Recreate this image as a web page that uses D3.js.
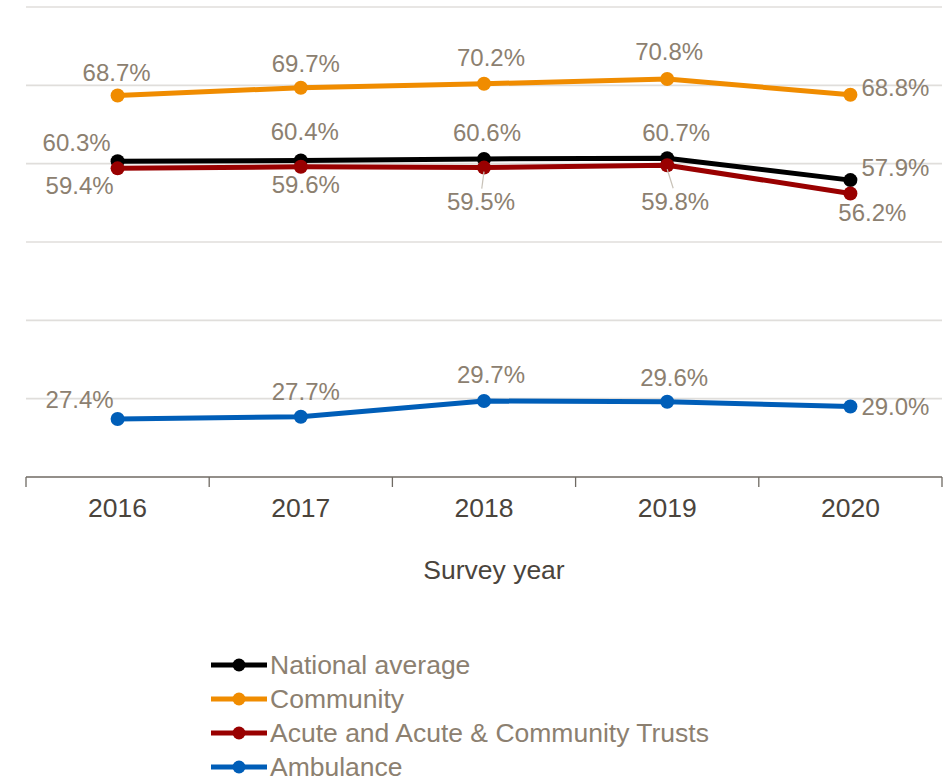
<!DOCTYPE html>
<html>
<head>
<meta charset="utf-8">
<script src="https://cdn.jsdelivr.net/npm/d3@7"></script>
<style>
  html, body { margin: 0; padding: 0; background: #fff; }
  svg { display: block; font-family: "Liberation Sans", Arial, sans-serif; }
</style>
</head>
<body>
<svg id="chart" width="951" height="777"></svg>
<script>
// Survey years and series values (percent)
const years = ["2016", "2017", "2018", "2019", "2020"];
const nationalAverage = [60.3, 60.4, 60.6, 60.7, 57.9];
const community = [68.7, 69.7, 70.2, 70.8, 68.8];
const acuteTrusts = [59.4, 59.6, 59.5, 59.8, 56.2];
const ambulance = [27.4, 27.7, 29.7, 29.6, 29.0];
const seriesNames = ["National average", "Community", "Acute and Acute & Community Trusts", "Ambulance"];
const yTicks = [30, 40, 50, 60, 70, 80];

// Label placement (offset of label centre from its point; "start" labels sit to the right)
const labelLayout = [
  [[-41, -19], [4, -29], [3, -26], [9, -26], [11, -13, "start"]],
  [[-1, -23], [5, -24], [7, -26], [2, -27], [11, -7, "start"]],
  [[-38, 17], [5, 18], [-3, 34, "leader"], [8, 36, "leader"], [22, 19]],
  [[-38, -19], [5, -25], [7, -26], [7, -24], [11, 0, "start"]]
];
const colors = ["#000000", "#f08c00", "#990000", "#005eb8"];

const series = [nationalAverage, community, acuteTrusts, ambulance].map((vals, i) => ({
  name: seriesNames[i],
  color: colors[i],
  values: vals.map((v, j) => ({ year: years[j], value: v, layout: labelLayout[i][j] }))
}));

const svg = d3.select("#chart");
const x = d3.scaleBand().domain(years).range([26, 942]).padding(0);
const y = d3.scaleLinear().domain([20, 80]).range([477, 7]);
const cx = d => x(d.year) + x.bandwidth() / 2;

// Horizontal gridlines
svg.append("g").selectAll("line").data(yTicks).join("line")
  .attr("x1", 26).attr("x2", 942)
  .attr("y1", d => y(d)).attr("y2", d => y(d))
  .attr("stroke", "#e0dedb").attr("stroke-width", 1.6);

// Category axis with ticks on band boundaries
const axisG = svg.append("g").attr("transform", `translate(0,${y(20)})`);
axisG.append("line").attr("x1", 26).attr("x2", 942).attr("stroke", "#6f6a63").attr("stroke-width", 1.3);
const bounds = years.map(d => x(d)).concat([x.range()[1]]);
axisG.selectAll("line.tick").data(bounds).join("line").attr("class", "tick")
  .attr("x1", d => d).attr("x2", d => d).attr("y1", 0).attr("y2", 10)
  .attr("stroke", "#6f6a63").attr("stroke-width", 1.3);
axisG.selectAll("text").data(years).join("text")
  .attr("x", d => x(d) + x.bandwidth() / 2).attr("y", 40)
  .attr("text-anchor", "middle")
  .attr("font-size", 26.5).attr("fill", "#4a443c")
  .text(d => d);

svg.append("text").attr("x", 494).attr("y", 579)
  .attr("text-anchor", "middle").attr("font-size", 26.5).attr("fill", "#4a443c")
  .text("Survey year");

// Lines and markers
const line = d3.line().x(cx).y(d => y(d.value));
const sg = svg.append("g").selectAll("g").data(series).join("g");
sg.append("path").attr("d", d => line(d.values))
  .attr("fill", "none").attr("stroke", d => d.color).attr("stroke-width", 5)
  .attr("stroke-linejoin", "round");
sg.selectAll("circle").data(d => d.values.map(v => ({ ...v, color: d.color }))).join("circle")
  .attr("cx", cx).attr("cy", d => y(d.value)).attr("r", 7).attr("fill", d => d.color);

// Data labels
const labelData = series.flatMap(s => s.values);
const lg = svg.append("g");
lg.selectAll("line").data(labelData.filter(d => d.layout[2] === "leader")).join("line")
  .attr("x1", d => cx(d)).attr("y1", d => y(d.value) + 4)
  .attr("x2", d => cx(d) + d.layout[0] * 0.75).attr("y2", d => y(d.value) + d.layout[1] - 13)
  .attr("stroke", "#c8c2b8").attr("stroke-width", 1.2);
lg.selectAll("text").data(labelData).join("text")
  .attr("x", d => cx(d) + d.layout[0])
  .attr("y", d => y(d.value) + d.layout[1])
  .attr("dy", "0.35em")
  .attr("text-anchor", d => d.layout[2] === "start" ? "start" : "middle")
  .attr("font-size", 24).attr("fill", "#8c8070")
  .text(d => d.value.toFixed(1) + "%");

// Legend
const leg = svg.append("g").selectAll("g").data(series).join("g")
  .attr("transform", (d, i) => `translate(211,${665 + i * 34})`);
leg.append("line").attr("x1", 0).attr("x2", 56).attr("stroke", d => d.color).attr("stroke-width", 5);
leg.append("circle").attr("cx", 28).attr("r", 6.5).attr("fill", d => d.color);
leg.append("text").attr("x", 59).attr("dy", "0.35em")
  .attr("font-size", 26.5).attr("fill", "#8c8070").text(d => d.name);
</script>
</body>
</html>
